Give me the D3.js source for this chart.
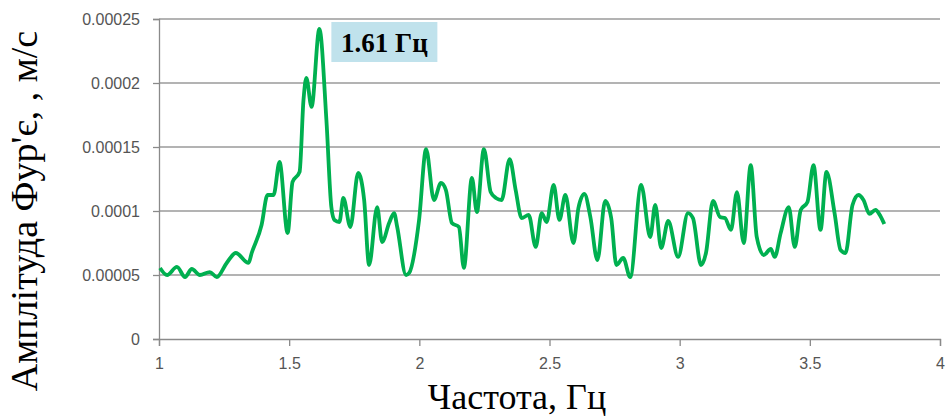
<!DOCTYPE html>
<html>
<head>
<meta charset="utf-8">
<script src="https://cdn.jsdelivr.net/npm/d3@7"></script>
<style>
  body { margin: 0; background: #fff; }
  svg { display: block; }
</style>
</head>
<body>
<div id="chart"></div>
<script>
// frequency, Hz
const freq = [1.004, 1.031, 1.069, 1.100, 1.126, 1.157, 1.195, 1.222, 1.260, 1.295,
  1.344, 1.356, 1.394, 1.417, 1.440, 1.463, 1.494, 1.513, 1.540, 1.555,
  1.566, 1.586, 1.616, 1.643, 1.662, 1.674, 1.693, 1.708, 1.735, 1.765,
  1.788, 1.807, 1.838, 1.857, 1.884, 1.903, 1.915, 1.949, 1.961, 1.999,
  2.026, 2.056, 2.083, 2.102, 2.125, 2.152, 2.171, 2.202, 2.221, 2.248,
  2.274, 2.294, 2.316, 2.347, 2.370, 2.393, 2.420, 2.447, 2.470, 2.489,
  2.516, 2.538, 2.561, 2.592, 2.611, 2.634, 2.657, 2.684, 2.714, 2.737,
  2.757, 2.783, 2.810, 2.852, 2.887, 2.906, 2.929, 2.956, 2.994, 3.032,
  3.051, 3.082, 3.101, 3.128, 3.155, 3.174, 3.197, 3.220, 3.246, 3.273,
  3.296, 3.323, 3.350, 3.365, 3.388, 3.419, 3.442, 3.465, 3.491, 3.514,
  3.541, 3.564, 3.595, 3.618, 3.637, 3.664, 3.687, 3.706, 3.729, 3.752,
  3.771, 3.786];

// Fourier amplitude, x 1e-5 m/s
const amp = [5.55, 5.00, 5.63, 4.84, 5.47, 5.00, 5.23, 4.84, 5.94, 6.72,
  5.94, 6.72, 8.91, 11.25, 11.25, 13.83, 8.28, 12.27, 13.05, 18.67,
  20.39, 18.13, 24.22, 17.11, 10.31, 9.30, 9.14, 11.02, 8.75, 12.97,
  10.86, 5.78, 10.31, 7.58, 9.06, 9.84, 8.75, 5.00, 5.16, 9.30,
  14.84, 10.86, 12.19, 11.64, 9.06, 8.75, 5.55, 12.58, 9.92, 14.84,
  11.48, 11.02, 10.86, 14.06, 11.64, 9.45, 9.69, 7.19, 9.84, 9.14,
  12.03, 9.30, 11.25, 7.50, 10.23, 11.33, 9.53, 6.17, 10.78, 9.45,
  5.78, 6.33, 4.84, 12.03, 7.97, 10.47, 7.11, 9.22, 6.41, 9.84,
  9.45, 5.78, 6.72, 10.78, 9.53, 9.45, 8.52, 11.48, 7.50, 13.59,
  7.97, 6.56, 7.03, 6.41, 8.28, 10.31, 7.19, 10.08, 10.70, 13.59,
  8.52, 13.05, 9.84, 6.95, 6.72, 10.47, 11.25, 10.86, 9.77, 10.08,
  9.61, 8.98];

const xTicks = [1, 1.5, 2, 2.5, 3, 3.5, 4];
const yTicks = [0, 0.00005, 0.0001, 0.00015, 0.0002, 0.00025];
const yTickLabels = ["0", "0.00005", "0.0001", "0.00015", "0.0002", "0.00025"];
const peakFreq = 1.616;
const peakLabel = "1.61 Гц";
const xTitle = "Частота, Гц";
const yTitle = "Амплітуда Фур'є, , м/с";

const width = 946, height = 418;
const margin = { left: 159, right: 940, top: 19, bottom: 339 };

const data = freq.map((f, i) => ({ f: f, a: amp[i] * 1e-5 }));

const x = d3.scaleLinear().domain([1, 4]).range([margin.left, margin.right]);
const y = d3.scaleLinear().domain([0, 0.00025]).range([margin.bottom, margin.top]);

const svg = d3.select("#chart").append("svg")
  .attr("width", width)
  .attr("height", height);

// gridlines
svg.append("g")
  .selectAll("line")
  .data(yTicks.slice(1))
  .enter().append("line")
    .attr("x1", margin.left).attr("x2", margin.right)
    .attr("y1", d => y(d)).attr("y2", d => y(d))
    .attr("stroke", "#9a9a9a")
    .attr("stroke-width", 1.3);

// y axis
const yAxis = svg.append("g")
  .attr("transform", `translate(${margin.left},0)`)
  .call(d3.axisLeft(y).tickValues(yTicks).tickSize(6).tickPadding(13)
    .tickFormat((d, i) => yTickLabels[i]));

// x axis
const xAxis = svg.append("g")
  .attr("transform", `translate(0,${margin.bottom})`)
  .call(d3.axisBottom(x).tickValues(xTicks).tickSize(7).tickPadding(12)
    .tickFormat(d3.format("")));

[yAxis, xAxis].forEach(a => {
  a.select(".domain").attr("stroke", "#8a8a8a").attr("stroke-width", 1.3);
  a.selectAll(".tick line").attr("stroke", "#8a8a8a").attr("stroke-width", 1.3);
  a.selectAll(".tick text")
    .attr("fill", "#555")
    .style("font-family", "'Liberation Sans', Arial, sans-serif")
    .style("font-size", "16px");
});

// series
const line = d3.line()
  .x(d => x(d.f))
  .y(d => y(d.a))
  .curve(d3.curveMonotoneX);

svg.append("path")
  .datum(data)
  .attr("d", line)
  .attr("fill", "none")
  .attr("stroke", "#00b050")
  .attr("stroke-width", 3.8)
  .attr("stroke-linejoin", "round");

// peak annotation
const bx = x(peakFreq) + 12;
svg.append("rect")
  .attr("x", bx).attr("y", 22)
  .attr("width", 106).attr("height", 40)
  .attr("fill", "#c0e2ec");
svg.append("text")
  .attr("x", bx + 53).attr("y", 52)
  .attr("text-anchor", "middle")
  .style("font-family", "'Liberation Serif', 'Times New Roman', serif")
  .style("font-weight", "bold")
  .style("font-size", "27px")
  .text(peakLabel);

// axis titles
svg.append("text")
  .attr("x", 517).attr("y", 409)
  .attr("text-anchor", "middle")
  .style("font-family", "'Liberation Serif', 'Times New Roman', serif")
  .style("font-size", "36px")
  .text(xTitle);

svg.append("text")
  .attr("transform", "translate(37,211) rotate(-90)")
  .attr("text-anchor", "middle")
  .style("font-family", "'Liberation Serif', 'Times New Roman', serif")
  .style("font-size", "38px")
  .text(yTitle);
</script>
</body>
</html>
